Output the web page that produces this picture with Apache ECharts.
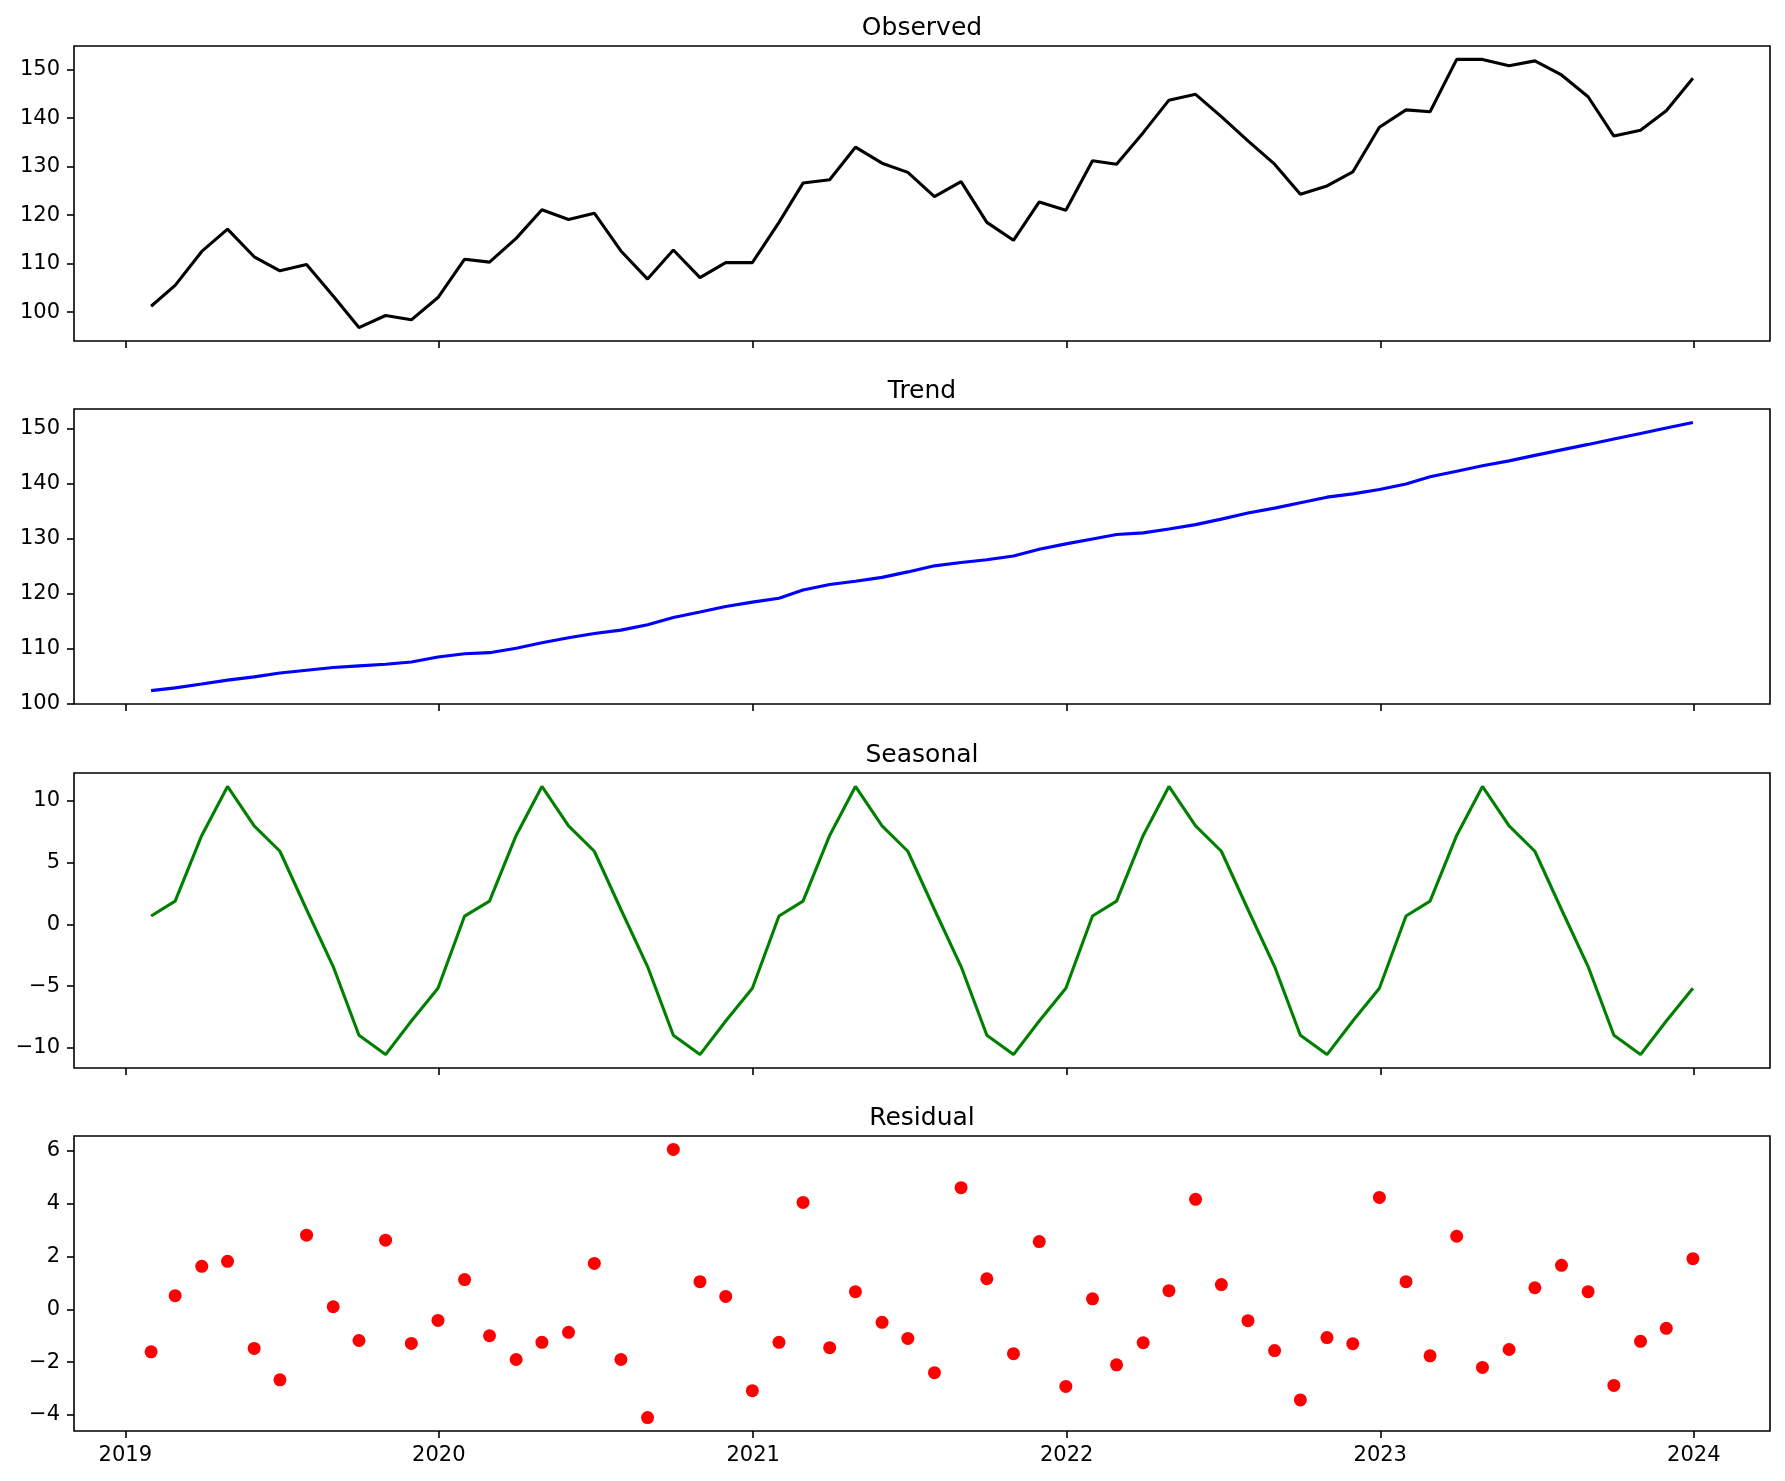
<!DOCTYPE html>
<html>
<head>
<meta charset="utf-8">
<script src="https://cdn.jsdelivr.net/npm/echarts@6/dist/echarts.min.js"></script>
<style>
  html, body { margin: 0; padding: 0; background: #fff; }
  #chart { width: 1785px; height: 1481px; }
</style>
</head>
<body>
<div id="chart"></div>
<script>
// ---- data (monthly, month-end dates Jan 2019 .. Dec 2023) ----
const years = [2019, 2020, 2021, 2022, 2023];
const observed = [101.2,105.5,112.5,117.1,111.4,108.5,109.8,103.3,96.8,99.3,98.4,103.0,
  110.9,110.3,115.2,121.1,119.1,120.4,112.6,106.8,112.8,107.1,110.2,110.2,
  118.5,126.6,127.3,134.0,130.7,128.8,123.8,126.9,118.5,114.8,122.7,121.0,
  131.2,130.5,137.0,143.7,144.9,140.3,135.3,130.5,124.3,126.0,128.9,138.1,
  141.7,141.3,152.1,152.1,150.8,151.8,148.9,144.4,136.3,137.5,141.5,148.2];
const trend = [102.4,102.9,103.6,104.3,104.9,105.6,106.1,106.6,106.9,107.2,107.6,108.5,
  109.1,109.3,110.1,111.1,112.0,112.8,113.4,114.4,115.7,116.7,117.7,118.5,
  119.2,120.7,121.7,122.3,123.0,124.0,125.1,125.7,126.2,126.9,128.1,129.1,
  130.0,130.8,131.1,131.8,132.6,133.6,134.7,135.6,136.6,137.6,138.2,139.0,
  140.0,141.3,142.3,143.3,144.2,145.2,146.2,147.2,148.2,149.2,150.2,151.2];
const seasonal = [0.67,1.88,7.2,11.17,7.97,5.92,1.2,-3.42,-8.99,-10.55,-7.83,-5.17,
  0.67,1.88,7.2,11.17,7.97,5.92,1.2,-3.42,-8.99,-10.55,-7.83,-5.17,
  0.67,1.88,7.2,11.17,7.97,5.92,1.2,-3.42,-8.99,-10.55,-7.83,-5.17,
  0.67,1.88,7.2,11.17,7.97,5.92,1.2,-3.42,-8.99,-10.55,-7.83,-5.17,
  0.67,1.88,7.2,11.17,7.97,5.92,1.2,-3.42,-8.99,-10.55,-7.83,-5.17];
const residual = [-1.61,0.52,1.63,1.82,-1.48,-2.67,2.81,0.10,-1.18,2.62,-1.29,-0.42,
  1.13,-1.00,-1.90,-1.25,-0.87,1.74,-1.90,-4.10,6.06,1.05,0.49,-3.08,
  -1.25,4.05,-1.45,0.67,-0.49,-1.10,-2.40,4.61,1.16,-1.68,2.57,-2.92,
  0.40,-2.10,-1.26,0.71,4.17,0.94,-0.43,-1.56,-3.43,-1.07,-1.30,4.24,
  1.05,-1.76,2.77,-2.20,-1.52,0.82,1.67,0.67,-2.88,-1.21,-0.72,1.92];
const titles = ['Observed', 'Trend', 'Seasonal', 'Residual'];
const xTickYears = [2019, 2020, 2021, 2022, 2023, 2024];
const yTicksObserved = [100, 110, 120, 130, 140, 150];
const yTicksTrend = [100, 110, 120, 130, 140, 150];
const yTicksSeasonal = [-10, -5, 0, 5, 10];
const yTicksResidual = [-4, -2, 0, 2, 4, 6];

// ---- build ----
const dates = [];
years.forEach(y => { for (let m = 1; m <= 12; m++) dates.push(new Date(y, m, 0).getTime()); });
const xTicks = xTickYears.map(y => new Date(y, 0, 1).getTime());
const pair = arr => arr.map((v, i) => [dates[i], v]);

function lim(arr) {
  const lo = Math.min(...arr), hi = Math.max(...arr), m = (hi - lo) * 0.05;
  return [lo - m, hi + m];
}
const xl = lim(dates);

const FONT = 'DejaVu Sans';
const tops = [46, 409, 773, 1136];
const H = 295, LEFT = 74, RIGHT = 15;
const seriesData = [observed, trend, seasonal, residual];
const yTicks = [yTicksObserved, yTicksTrend, yTicksSeasonal, yTicksResidual];
const colors = ['#000000', '#0000ff', '#008000', '#ff0000'];
const fmtNum = v => String(v).replace('-', '\u2212');

const grid = [], xAxis = [], yAxis = [], series = [], title = [];
for (let i = 0; i < 4; i++) {
  grid.push({ left: LEFT, right: RIGHT, top: tops[i], height: H, show: true,
    borderColor: '#000', borderWidth: 1.6, backgroundColor: '#fff', containLabel: false });
  title.push({ text: titles[i], left: 917, top: tops[i] - 35, textAlign: 'center',
    textStyle: { fontFamily: FONT, fontSize: 25, fontWeight: 'normal', color: '#000' } });
  xAxis.push({ type: 'value', gridIndex: i, min: xl[0], max: xl[1], scale: true, position: 'bottom',
    axisLine: { show: false, onZero: false },
    splitLine: { show: false },
    axisTick: { show: true, length: 7, lineStyle: { color: '#000', width: 1.6 }, customValues: xTicks },
    axisLabel: { show: i === 3, customValues: xTicks, margin: 14, fontFamily: FONT, fontSize: 21, color: '#000',
      formatter: v => String(new Date(v).getFullYear()), hideOverlap: false } });
  const yl = lim(seriesData[i]);
  yAxis.push({ type: 'value', gridIndex: i, min: yl[0], max: yl[1], scale: true, position: 'left',
    axisLine: { show: false, onZero: false },
    splitLine: { show: false },
    axisTick: { show: true, length: 7, lineStyle: { color: '#000', width: 1.6 }, customValues: yTicks[i] },
    axisLabel: { customValues: yTicks[i], margin: 14, fontFamily: FONT, fontSize: 21, color: '#000',
      formatter: v => fmtNum(v) } });
  if (i < 3) {
    series.push({ type: 'line', xAxisIndex: i, yAxisIndex: i, data: pair(seriesData[i]),
      showSymbol: false, symbol: 'none', lineStyle: { color: colors[i], width: 3.1 }, itemStyle: { color: colors[i] } });
  } else {
    series.push({ type: 'scatter', xAxisIndex: i, yAxisIndex: i, data: pair(seriesData[i]),
      symbol: 'circle', symbolSize: 13, itemStyle: { color: colors[i], opacity: 1 } });
  }
}

const chart = echarts.init(document.getElementById('chart'), null, { renderer: 'canvas' });
chart.setOption({ backgroundColor: '#fff', animation: false, title, grid, xAxis, yAxis, series });
</script>
</body>
</html>
